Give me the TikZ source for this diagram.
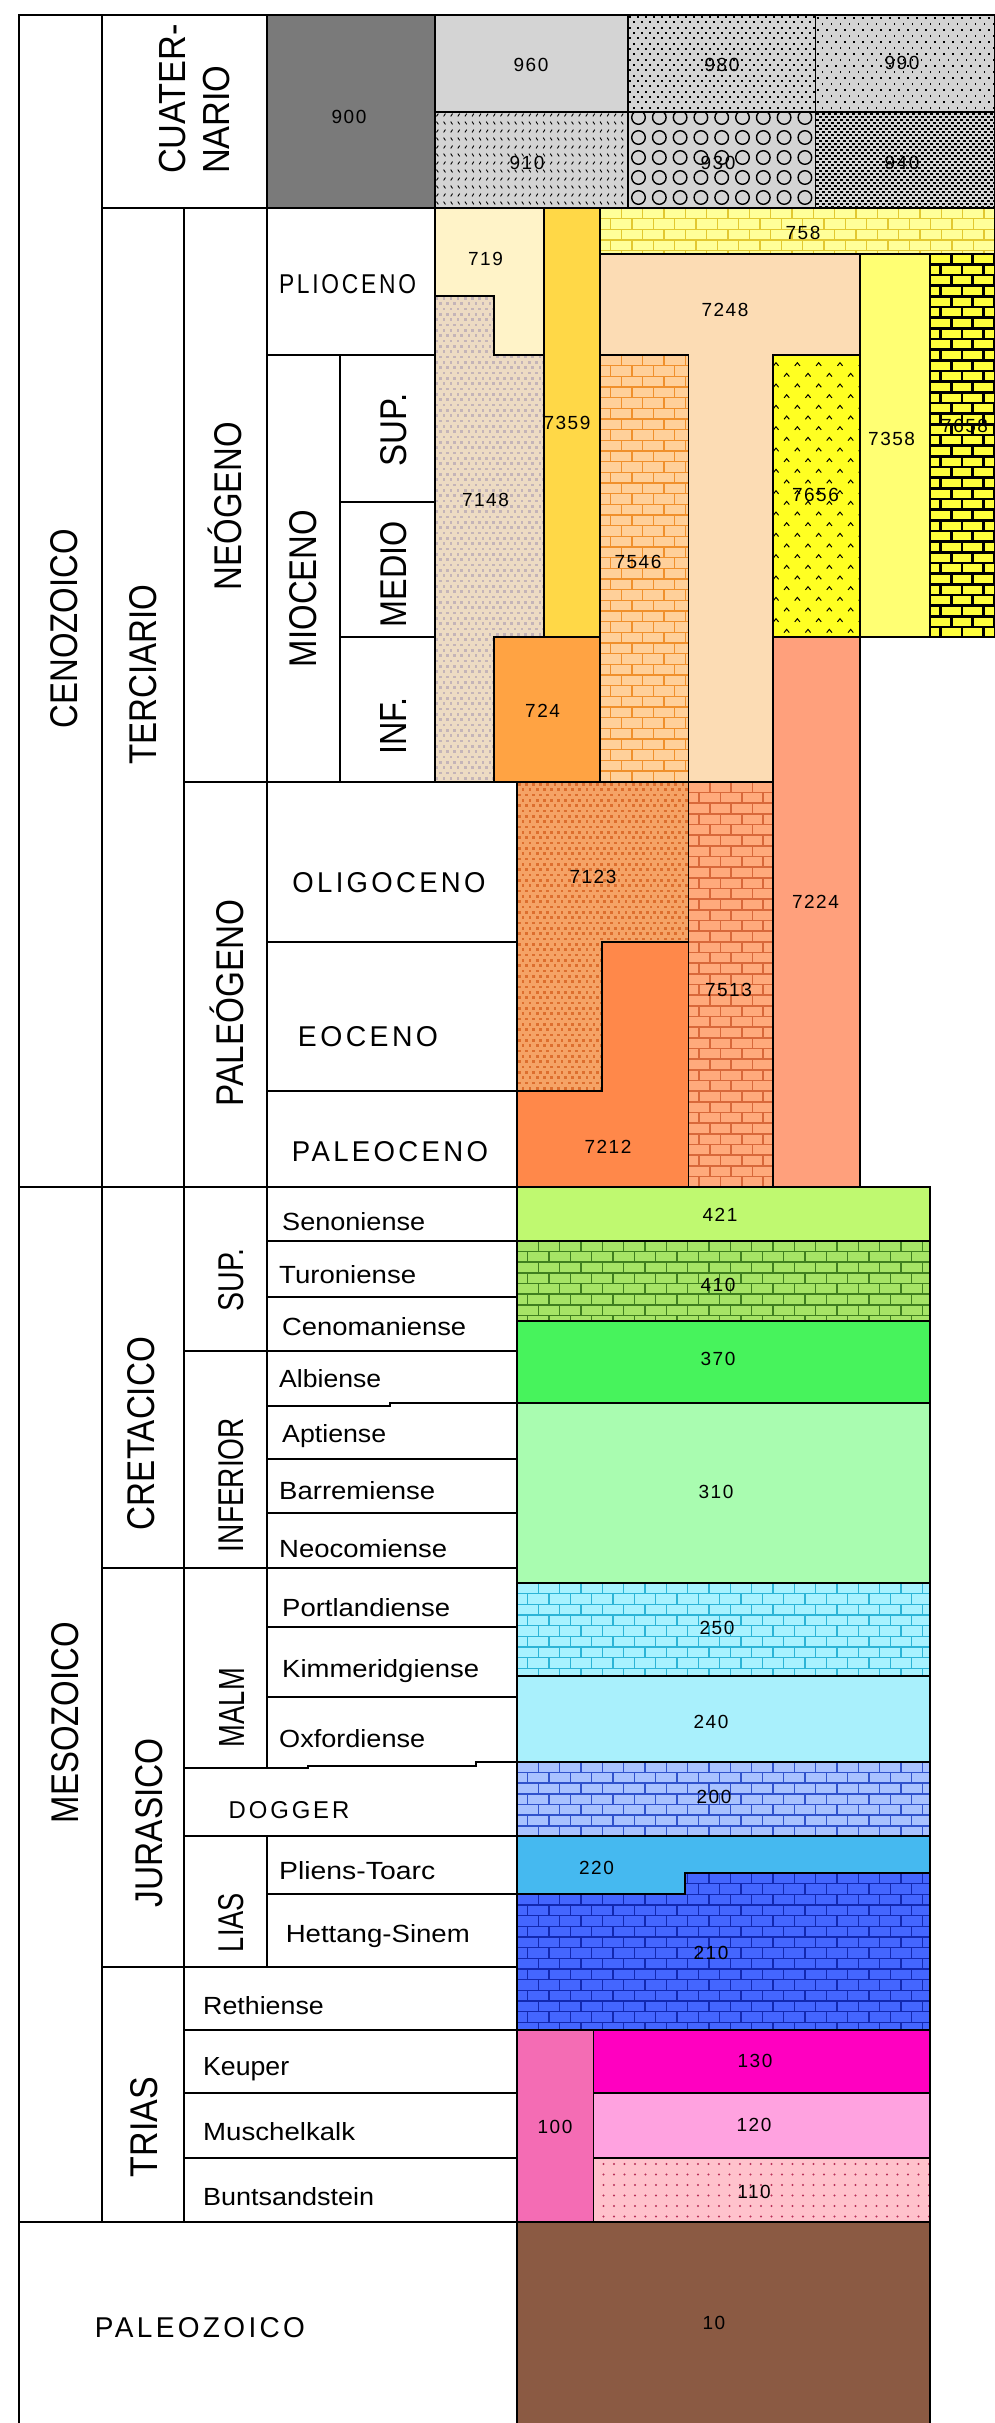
\documentclass[tikz,border=0pt]{standalone}
\usepackage{graphicx}
\usepackage{fontspec}
\setmainfont{Liberation Sans}
\newfontfamily\spcf[LetterSpace=12]{Liberation Sans}
\newfontfamily\numf[LetterSpace=8]{Liberation Sans}
\definecolor{c900}{HTML}{7A7A7A}
\definecolor{cgr}{HTML}{D4D4D4}
\definecolor{c719}{HTML}{FFF3C8}
\definecolor{c7148}{HTML}{EDDBC3}
\definecolor{c7148d}{HTML}{C4B4B8}
\definecolor{c7359}{HTML}{FFD847}
\definecolor{c724}{HTML}{FFA343}
\definecolor{c758b}{HTML}{FFFF99}
\definecolor{c758m}{HTML}{E2C830}
\definecolor{c7248}{HTML}{FCDCB4}
\definecolor{c7546b}{HTML}{FFD09A}
\definecolor{c7546m}{HTML}{F0902C}
\definecolor{c7656}{HTML}{FFFF22}
\definecolor{c7358}{HTML}{FFFF73}
\definecolor{c7658b}{HTML}{FFFF3C}
\definecolor{c7224}{HTML}{FFA07C}
\definecolor{c7123}{HTML}{F5A366}
\definecolor{c7123d}{HTML}{DD6E2E}
\definecolor{c7212}{HTML}{FF884A}
\definecolor{c7513b}{HTML}{FFAA7C}
\definecolor{c7513m}{HTML}{D8683A}
\definecolor{c421}{HTML}{BFF970}
\definecolor{c410b}{HTML}{A6E466}
\definecolor{c410m}{HTML}{3F7F1F}
\definecolor{c370}{HTML}{47F35C}
\definecolor{c310}{HTML}{A9FCB0}
\definecolor{c250b}{HTML}{A8F2FF}
\definecolor{c250m}{HTML}{2CB4D6}
\definecolor{c240}{HTML}{A9F0FC}
\definecolor{c200b}{HTML}{A9C2FF}
\definecolor{c200m}{HTML}{3052CC}
\definecolor{c220}{HTML}{45B9F0}
\definecolor{c210b}{HTML}{4466FF}
\definecolor{c210m}{HTML}{1228B0}
\definecolor{c100}{HTML}{F46CB4}
\definecolor{c130}{HTML}{FF00C0}
\definecolor{c120}{HTML}{FFA2E0}
\definecolor{c110}{HTML}{FFC2CC}
\definecolor{c110d}{HTML}{B83058}
\definecolor{c10}{HTML}{8B5A43}

\newcommand{\RZ}[3]{\resizebox{#1pt}{#2pt}{#3}}
\newcommand{\bricks}[6]{%
 \begin{scope}
 \clip (#1,#2) rectangle (#3,#4);
 \pgfmathtruncatemacro{\bNr}{(#4-#2)/10.667+1}
 \pgfmathtruncatemacro{\bNc}{(#3-#1)/21.333+2}
 \foreach \bi in {0,...,\bNr}{
  \pgfmathsetmacro{\byy}{#2+\bi*10.667}
  \pgfmathsetmacro{\boff}{mod(\bi,2)*10.667}
  \draw[#5,line width=#6pt] (#1,\byy) -- (#3,\byy);
  \foreach \bj in {0,...,\bNc}{
   \pgfmathsetmacro{\bxx}{#1-21.333+\boff+\bj*21.333}
   \draw[#5,line width=#6pt] (\bxx,\byy) -- (\bxx,\byy+10.667);
  }}
 \end{scope}}
\newcommand{\dotsq}[8]{%
 \pgfmathtruncatemacro{\dNx}{(#3-#1)/#5+1}
 \pgfmathtruncatemacro{\dNy}{(#4-#2)/#6+1}
 \foreach \dj in {0,...,\dNy}{
  \pgfmathsetmacro{\dpy}{#2+\dj*#6}
  \pgfmathsetmacro{\dpx}{#1+mod(\dj,2)*#5/2}
  \foreach \di in {0,...,\dNx}{
   \fill[#8] (\dpx+\di*#5,\dpy) rectangle ++(#7,#7);
  }}}

\tikzset{
 gline/.style={line width=2pt, line cap=rect},
 dbox/.style={draw=black, line width=1.8pt},
 rl/.style={rotate=90, inner sep=0pt, anchor=center},
 hl/.style={inner sep=0pt, anchor=center, font=\spcf},
 sl/.style={inner sep=0pt, anchor=base west},
 numl/.style={inner sep=0pt, anchor=center, font=\numf\fontsize{19}{20}\selectfont},
}

\begin{document}
\begin{tikzpicture}[x=1pt,y=-1pt]
\useasboundingbox (0,0) rectangle (995,2423);
\fill[white] (0,0) rectangle (995,2423);

% ---------------- CUATERNARIO ----------------
\fill[c900] (266.5,15) rectangle (434.7,208);
\fill[cgr] (434.7,15) rectangle (995,208);
\begin{scope}\clip (628,15) rectangle (815.5,111.7);
 \dotsq{629}{16}{815.5}{111.7}{8}{5.333}{2}{black}\end{scope}
\begin{scope}\clip (815.5,15) rectangle (995,111.7);
 \dotsq{817}{17}{995}{111.7}{9}{6}{1.8}{black}\end{scope}
\begin{scope}\clip (434.7,111.7) rectangle (628,208);
 \foreach \j in {0,...,12}{
  \pgfmathsetmacro{\py}{115+\j*8}
  \foreach \i in {0,...,27}{
   \pgfmathsetmacro{\px}{436.5+\i*7.11}
   \ifodd\j
    \draw[line width=0.9pt] (\px,\py-1.4) -- (\px+1.8,\py+1.4);
   \else
    \draw[line width=0.9pt] (\px,\py+1.4) -- (\px+1.8,\py-1.4);
   \fi
  }}
\end{scope}
\begin{scope}\clip (628,111.7) rectangle (815.5,208);
 \foreach \j in {0,...,5}{
  \foreach \i in {0,...,9}{
   \draw[line width=1.4pt] (638.5+\i*20.8,117.5+\j*20) circle (6.8);
  }}
\end{scope}
\begin{scope}\clip (815.5,111.7) rectangle (995,208);
 \dotsq{816}{112.5}{995}{208}{6}{3}{2.6}{black}\end{scope}
\draw[dbox] (266.5,15) rectangle (434.7,208);
\draw[dbox] (434.7,15) rectangle (628,111.7);
\draw[dbox] (628,15) rectangle (815.5,111.7);
\draw[dbox] (815.5,15) rectangle (995,111.7);
\draw[dbox] (434.7,111.7) rectangle (628,208);
\draw[dbox] (628,111.7) rectangle (815.5,208);
\draw[dbox] (815.5,111.7) rectangle (995,208);

% ---------------- NEOGENO ----------------
\fill[c719] (434.7,208) -- (544,208) -- (544,355) -- (494,355) -- (494,295.7) -- (434.7,295.7) -- cycle;
\fill[c7148] (434.7,295.7) -- (494,295.7) -- (494,355) -- (544,355) -- (544,637) -- (494,637) -- (494,781.7) -- (434.7,781.7) -- cycle;
\begin{scope}
 \clip (434.7,295.7) -- (494,295.7) -- (494,355) -- (544,355) -- (544,637) -- (494,637) -- (494,781.7) -- (434.7,781.7) -- cycle;
 \dotsq{435.5}{297}{544}{781.7}{7.11}{5.333}{2.6}{c7148d}
\end{scope}
\fill[c7359] (544,208) rectangle (600,637);
\fill[c724] (494,637) rectangle (600,781.7);
\fill[c758b] (600,208) rectangle (995,253.6);
\bricks{600}{208}{995}{253.6}{c758m}{1.5}
\fill[c7248] (600,253.6) -- (860,253.6) -- (860,355) -- (773,355) -- (773,781.7) -- (688.5,781.7) -- (688.5,355) -- (600,355) -- cycle;
\fill[c7546b] (600,355) rectangle (688.5,781.7);
\bricks{600}{355}{688.5}{781.7}{c7546m}{1.6}
\fill[c7656] (773,355) rectangle (860,637);
\begin{scope}\clip (773,355) rectangle (860,637);
 \foreach \j in {0,...,27}{
  \pgfmathsetmacro{\py}{364.3+\j*10.667}
  \pgfmathsetmacro{\pxo}{776+mod(\j,2)*10.667}
  \foreach \i in {0,...,4}{
   \draw[line width=1pt] (\pxo+\i*21.333-2.6,\py+1.6) -- (\pxo+\i*21.333,\py-1.6) -- (\pxo+\i*21.333+2.6,\py+1.6);
  }}
\end{scope}
\fill[c7358] (860,253.6) rectangle (930,637);
\fill[c7658b] (930,253.6) rectangle (995,637);
\bricks{930}{253.6}{995}{637}{black}{2.7}
\fill[c7224] (773,637) rectangle (860,1186.7);

\draw[dbox] (434.7,208) -- (544,208) -- (544,355) -- (494,355) -- (494,295.7) -- (434.7,295.7) -- cycle;
\draw[dbox] (434.7,295.7) -- (494,295.7) -- (494,355) -- (544,355) -- (544,637) -- (494,637) -- (494,781.7) -- (434.7,781.7) -- cycle;
\draw[dbox] (544,208) rectangle (600,637);
\draw[dbox] (494,637) rectangle (600,781.7);
\draw[dbox] (600,208) rectangle (995,253.6);
\draw[dbox] (600,253.6) -- (860,253.6) -- (860,355) -- (773,355) -- (773,781.7) -- (688.5,781.7) -- (688.5,355) -- (600,355) -- cycle;
\draw[dbox] (600,355) rectangle (688.5,781.7);
\draw[dbox] (773,355) rectangle (860,637);
\draw[dbox] (860,253.6) rectangle (930,637);
\draw[dbox] (930,253.6) rectangle (995,637);
\draw[dbox] (773,637) rectangle (860,1186.7);

% ---------------- PALEOGENO ----------------
\fill[c7123] (517,781.7) -- (688.5,781.7) -- (688.5,942.3) -- (601.6,942.3) -- (601.6,1091) -- (517,1091) -- cycle;
\begin{scope}
 \clip (517,781.7) -- (688.5,781.7) -- (688.5,942.3) -- (601.6,942.3) -- (601.6,1091) -- (517,1091) -- cycle;
 \dotsq{518}{783}{688.5}{1091}{7.11}{5.333}{2.8}{c7123d}
\end{scope}
\fill[c7212] (601.6,942.3) -- (688.5,942.3) -- (688.5,1186.7) -- (517,1186.7) -- (517,1091) -- (601.6,1091) -- cycle;
\fill[c7513b] (688.5,781.7) rectangle (773,1186.7);
\bricks{688.5}{781.7}{773}{1186.7}{c7513m}{1.6}
\draw[dbox] (517,781.7) -- (688.5,781.7) -- (688.5,942.3) -- (601.6,942.3) -- (601.6,1091) -- (517,1091) -- cycle;
\draw[dbox] (601.6,942.3) -- (688.5,942.3) -- (688.5,1186.7) -- (517,1186.7) -- (517,1091) -- (601.6,1091) -- cycle;
\draw[dbox] (688.5,781.7) rectangle (773,1186.7);

% ---------------- MESOZOICO ----------------
\fill[c421] (517,1186.7) rectangle (930,1240.7);
\fill[c410b] (517,1240.7) rectangle (930,1321);
\bricks{517}{1240.7}{930}{1321}{c410m}{1.6}
\fill[c370] (517,1321) rectangle (930,1403);
\fill[c310] (517,1403) rectangle (930,1583);
\fill[c250b] (517,1583) rectangle (930,1676);
\bricks{517}{1583}{930}{1676}{c250m}{1.6}
\fill[c240] (517,1676) rectangle (930,1761.7);
\fill[c200b] (517,1761.7) rectangle (930,1836);
\bricks{517}{1761.7}{930}{1836}{c200m}{1.6}
\fill[c220] (517,1836) -- (930,1836) -- (930,1873) -- (685,1873) -- (685,1894) -- (517,1894) -- cycle;
\fill[c210b] (517,1894) -- (685,1894) -- (685,1873) -- (930,1873) -- (930,2030) -- (517,2030) -- cycle;
\begin{scope}
 \clip (517,1894) -- (685,1894) -- (685,1873) -- (930,1873) -- (930,2030) -- (517,2030) -- cycle;
 \bricks{517}{1873}{930}{2030}{c210m}{1.6}
\end{scope}
\fill[c100] (517,2030) rectangle (593.4,2222);
\fill[c130] (593.4,2030) rectangle (930,2093);
\fill[c120] (593.4,2093) rectangle (930,2158);
\fill[c110] (593.4,2158) rectangle (930,2222);
\begin{scope}\clip (593.4,2158) rectangle (930,2222);
 \foreach \j in {0,...,5}{
  \foreach \i in {0,...,31}{
   \fill[c110d] (603.5+\i*10.5,2164+\j*10.5) circle (1.2);
  }}
\end{scope}
\fill[c10] (517,2222) rectangle (930,2423);

\draw[dbox] (517,1186.7) rectangle (930,1240.7);
\draw[dbox] (517,1240.7) rectangle (930,1321);
\draw[dbox] (517,1321) rectangle (930,1403);
\draw[dbox] (517,1403) rectangle (930,1583);
\draw[dbox] (517,1583) rectangle (930,1676);
\draw[dbox] (517,1676) rectangle (930,1761.7);
\draw[dbox] (517,1761.7) rectangle (930,1836);
\draw[dbox] (517,1836) -- (930,1836) -- (930,1873) -- (685,1873) -- (685,1894) -- (517,1894) -- cycle;
\draw[dbox] (517,1894) -- (685,1894) -- (685,1873) -- (930,1873) -- (930,2030) -- (517,2030) -- cycle;
\draw[dbox] (517,2030) rectangle (593.4,2222);
\draw[dbox] (593.4,2030) rectangle (930,2093);
\draw[dbox] (593.4,2093) rectangle (930,2158);
\draw[dbox] (593.4,2158) rectangle (930,2222);
\draw[dbox] (517,2222) -- (517,2423);
\draw[dbox] (930,2222) -- (930,2423);

% ---------------- LABEL GRID ----------------
\draw[gline] (19,2423) -- (19,15) -- (995,15);
\draw[gline] (101.5,15) -- (101.5,2222);
\draw[gline] (266.5,15) -- (266.5,208);
\draw[gline] (101.5,208) -- (434.7,208);
\draw[gline] (184,208) -- (184,2222);
\draw[gline] (266.5,208) -- (266.5,1768);
\draw[gline] (266.5,1836) -- (266.5,1966.7);
\draw[gline] (339.5,355) -- (339.5,781.7);
\draw[gline] (434.7,208) -- (434.7,781.7);
\draw[gline] (517,781.7) -- (517,2423);
\draw[gline] (266.5,355) -- (434.7,355);
\draw[gline] (339.5,502) -- (434.7,502);
\draw[gline] (339.5,637) -- (434.7,637);
\draw[gline] (184,781.7) -- (517,781.7);
\draw[gline] (266.5,942.3) -- (517,942.3);
\draw[gline] (266.5,1091) -- (517,1091);
\draw[gline] (19,1186.7) -- (517,1186.7);
\draw[gline] (266.5,1240.7) -- (517,1240.7);
\draw[gline] (266.5,1296.7) -- (517,1296.7);
\draw[gline] (184,1351) -- (517,1351);
\draw[gline] (266.5,1406) -- (390,1406) -- (390,1403.3) -- (517,1403.3);
\draw[gline] (266.5,1459) -- (517,1459);
\draw[gline] (266.5,1513) -- (517,1513);
\draw[gline] (101.5,1568) -- (517,1568);
\draw[gline] (266.5,1627) -- (517,1627);
\draw[gline] (266.5,1696.7) -- (517,1696.7);
\draw[gline] (184,1768) -- (308,1768) -- (308,1766) -- (476,1766) -- (476,1762) -- (517,1762);
\draw[gline] (184,1836) -- (517,1836);
\draw[gline] (266.5,1894) -- (517,1894);
\draw[gline] (101.5,1966.7) -- (517,1966.7);
\draw[gline] (184,2030) -- (517,2030);
\draw[gline] (184,2093) -- (517,2093);
\draw[gline] (184,2158) -- (517,2158);
\draw[gline] (19,2222) -- (517,2222);

% ---------------- ROTATED LABELS ----------------
\node[rl] (cuat) at (198.5,99) {\fontsize{37.7}{44}\selectfont\scalebox{0.91}[1]{\begin{tabular}{@{}l@{}}CUATER-\\NARIO\end{tabular}}};
\node[rl] (ceno) at (64.5,628.6) {\RZ{199}{27}{CENOZOICO}};
\node[rl] (terc) at (143,674.5) {\RZ{180}{27}{TERCIARIO}};
\node[rl] (neog) at (228.5,506) {\RZ{168}{27}{NE\smash{Ó}GENO}};
\node[rl] (mioc) at (303,588.5) {\RZ{157}{27}{MIOCENO}};
\node[rl] (msup) at (393.5,430) {\RZ{73}{26}{SUP.}};
\node[rl] (mmed) at (393.5,574) {\RZ{106}{26}{MEDIO}};
\node[rl] (minf) at (393.5,726) {\RZ{57.5}{26}{INF.}};
\node[rl] (paleog) at (230,1003) {\RZ{206.7}{27}{PALE\smash{Ó}GENO}};
\node[rl] (cret) at (141,1433.5) {\RZ{193}{27}{CRETACICO}};
\node[rl] (csup) at (231.5,1280) {\RZ{63}{25}{SUP.}};
\node[rl] (cinf) at (231.5,1485) {\RZ{134}{25}{INFERIOR}};
\node[rl] (meso) at (65,1722.5) {\RZ{201}{27}{MESOZOICO}};
\node[rl] (jura) at (149,1822.5) {\RZ{169}{27}{JURASICO}};
\node[rl] (malm) at (231.5,1707.5) {\RZ{79}{25}{MALM}};
\node[rl] (lias) at (231.5,1922.5) {\RZ{59}{25}{LIAS}};
\node[rl] (trias) at (144.5,2127) {\RZ{100}{27}{TRIAS}};

% ---------------- HORIZONTAL CAPS ----------------
\node[hl] (plio) at (347.5,284) {\RZ{137}{19}{PLIOCENO}};
\node[hl] (olig) at (389,883) {\RZ{193}{20}{OLIGOCENO}};
\node[hl] (eoc) at (368,1036.7) {\RZ{140}{20}{EOCENO}};
\node[hl] (paleoc) at (390,1151.7) {\RZ{196}{20}{PALEOCENO}};
\node[hl] (dogg) at (289,1810) {\RZ{120.5}{17}{DOGGER}};
\node[hl] (paleoz) at (200,2328) {\RZ{210}{20}{PALEOZOICO}};

% ---------------- STAGES ----------------
\node[sl] (s1) at (282,1230.7) {\RZ{143}{18}{Senoniense}};
\node[sl] (s2) at (279,1283) {\RZ{137}{18}{Turoniense}};
\node[sl] (s3) at (282,1335.7) {\RZ{184}{18}{Cenomaniense}};
\node[sl] (s4) at (279,1387) {\RZ{102}{18}{Albiense}};
\node[sl] (s5) at (282,1442) {\RZ{104}{18}{Aptiense}};
\node[sl] (s6) at (279,1499) {\RZ{156}{18}{Barremiense}};
\node[sl] (s7) at (279,1557) {\RZ{168}{18}{Neocomiense}};
\node[sl] (s8) at (282,1616) {\RZ{168}{18}{Portlandiense}};
\node[sl] (s9) at (282,1677) {\RZ{197}{18}{Kimmeridgiense}};
\node[sl] (s10) at (279,1747) {\RZ{146}{18}{Oxfordiense}};
\node[sl] (s11) at (279,1879) {\RZ{156}{18}{Pliens-Toarc}};
\node[sl] (s12) at (285.6,1942) {\RZ{184}{18}{Hettang-Sinem}};
\node[sl] (s13) at (203,2014) {\RZ{120.6}{18}{Rethiense}};
\node[sl] (s14) at (203,2075.7) {\RZ{86}{18}{Keuper}};
\node[sl] (s15) at (203,2140.7) {\RZ{152}{18}{Muschelkalk}};
\node[sl] (s16) at (203,2205.7) {\RZ{171}{18}{Buntsandstein}};

% ---------------- NUMBERS ----------------
\node[numl] (n900) at (349,116.7) {900};
\node[numl] (n960) at (531,65) {960};
\node[numl] (n980) at (722,65) {980};
\node[numl] (n990) at (902,63) {990};
\node[numl] (n910) at (527,163) {910};
\node[numl] (n930) at (718,163) {930};
\node[numl] (n940) at (902,163) {940};
\node[numl] (n758) at (803,233) {758};
\node[numl] (n7248) at (725,310) {7248};
\node[numl] (n719) at (485.5,259) {719};
\node[numl] (n7359) at (567,423) {7359};
\node[numl] (n7148) at (485.5,500) {7148};
\node[numl] (n7546) at (638,561.6) {7546};
\node[numl] (n7656) at (815.5,494.7) {7656};
\node[numl] (n7358) at (891.6,439) {7358};
\node[numl] (n7658) at (964.6,425.8) {7658};
\node[numl] (n724) at (542.6,711) {724};
\node[numl] (n7123) at (593,876.7) {7123};
\node[numl] (n7513) at (728.5,990) {7513};
\node[numl] (n7224) at (815.5,901.7) {7224};
\node[numl] (n7212) at (608,1146.7) {7212};
\node[numl] (n421) at (720,1215) {421};
\node[numl] (n410) at (718,1285) {410};
\node[numl] (n370) at (718,1359) {370};
\node[numl] (n310) at (716,1491.7) {310};
\node[numl] (n250) at (717,1628) {250};
\node[numl] (n240) at (711,1721.7) {240};
\node[numl] (n200) at (714,1796.7) {200};
\node[numl] (n220) at (596.5,1868) {220};
\node[numl] (n210) at (711,1953) {210};
\node[numl] (n130) at (755,2060.7) {130};
\node[numl] (n120) at (754,2125) {120};
\node[numl] (n110) at (754,2191.7) {110};
\node[numl] (n100) at (555,2126.7) {100};
\node[numl] (n10) at (714,2323) {10};
\end{tikzpicture}
\end{document}
